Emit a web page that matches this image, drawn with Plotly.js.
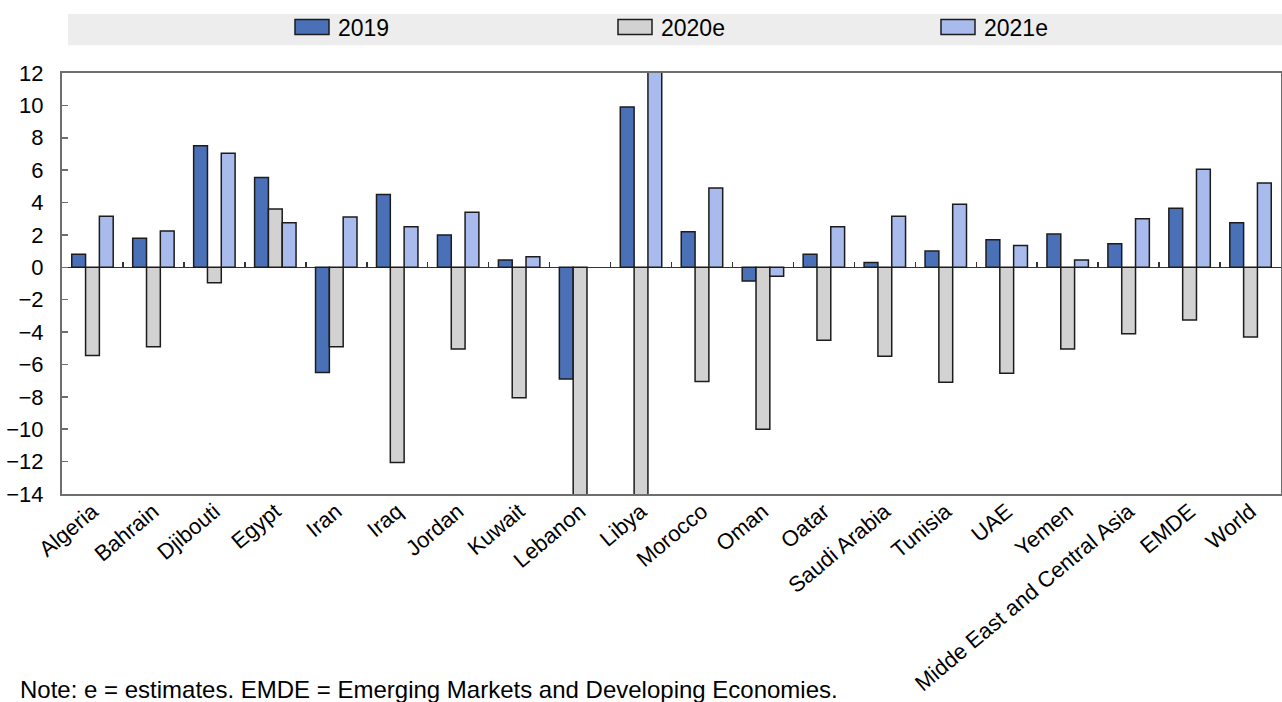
<!DOCTYPE html>
<html>
<head>
<meta charset="utf-8">
<script src="https://cdn.plot.ly/plotly-3.0.1.min.js"></script>
<style>
  html, body { margin: 0; padding: 0; background: #fff; }
  #chart { width: 1282px; height: 702px; }
</style>
</head>
<body>
<div id="chart"></div>
<script>
var categories = ["Algeria", "Bahrain", "Djibouti", "Egypt", "Iran", "Iraq", "Jordan", "Kuwait", "Lebanon", "Libya",
  "Morocco", "Oman", "Oatar", "Saudi Arabia", "Tunisia", "UAE", "Yemen", "Midde East and Central Asia", "EMDE", "World"];

var values2019  = [0.8, 1.8, 7.5, 5.55, -6.5, 4.5, 2.0, 0.45, -6.9, 9.9,
  2.2, -0.85, 0.8, 0.3, 1.0, 1.7, 2.05, 1.45, 3.65, 2.75];
var values2020e = [-5.45, -4.9, -0.95, 3.6, -4.9, -12.05, -5.05, -8.05, -19.2, -66.7,
  -7.05, -10.0, -4.5, -5.5, -7.1, -6.55, -5.05, -4.1, -3.25, -4.3];
var values2021e = [3.15, 2.25, 7.05, 2.75, 3.1, 2.5, 3.4, 0.65, null, 76.0,
  4.9, -0.55, 2.5, 3.15, 3.9, 1.35, 0.45, 3.0, 6.05, 5.2];

var seriesNames = ["2019", "2020e", "2021e"];
var boundaryTicks = [0.5, 1.5, 2.5, 3.5, 4.5, 5.5, 6.5, 7.5, 8.5, 9.5, 10.5, 11.5, 12.5, 13.5, 14.5, 15.5, 16.5, 17.5, 18.5];
var yTicks = [-14, -12, -10, -8, -6, -4, -2, 0, 2, 4, 6, 8, 10, 12];
var noteText = "Note: e = estimates. EMDE = Emerging Markets and Developing Economies.";

var colors = ["#4a70b8", "#d2d2d2", "#a9bbec"];
var outline = { color: "#1c1c1c", width: 1.5 };

var data = [values2019, values2020e, values2021e].map(function (vals, i) {
  return {
    type: "bar",
    name: seriesNames[i],
    x: categories,
    y: vals,
    marker: { color: colors[i], line: outline },
    hoverinfo: "x+y+name"
  };
});
// empty helper trace so the zero-line boundary tick axis is drawn
data.push({ type: "scatter", x: [], y: [], xaxis: "x2", yaxis: "y", showlegend: false, hoverinfo: "skip" });

var fam = "Liberation Sans, Arial, sans-serif";
var tickFont = { family: fam, size: 22, color: "#000" };
var legendFont = { family: fam, size: 23, color: "#000" };
var noteFont = { family: fam, size: 24, color: "#000" };

var layout = {
  width: 1282,
  height: 702,
  margin: { l: 62, r: 1, t: 73, b: 208 },
  paper_bgcolor: "#ffffff",
  plot_bgcolor: "#ffffff",
  font: tickFont,
  barmode: "group",
  bargap: 0.32,
  bargroupgap: 0,
  showlegend: true,
  legend: {
    orientation: "h",
    x: 0.1936,
    xanchor: "left",
    y: (702 - 27) / 702,
    yanchor: "middle",
    yref: "container",
    bgcolor: "rgba(0,0,0,0)",
    font: legendFont,
    entrywidth: 278,
    entrywidthmode: "pixels",
    traceorder: "normal"
  },
  xaxis: {
    type: "category",
    tickangle: -40,
    ticks: "",
    ticklabelstandoff: -6,
    showline: true,
    linecolor: "#6e6e6e",
    linewidth: 2,
    mirror: true,
    showgrid: false,
    zeroline: false,
    layer: "below traces",
    tickfont: tickFont
  },
  xaxis2: {
    overlaying: "x",
    anchor: "free",
    position: 14 / 26,
    side: "top",
    range: [-0.5, 19.5],
    tickvals: boundaryTicks,
    ticks: "outside",
    ticklen: 5,
    tickwidth: 1.5,
    tickcolor: "#333",
    showticklabels: false,
    showline: false,
    showgrid: false,
    zeroline: false
  },
  yaxis: {
    range: [-14, 12],
    tickvals: yTicks,
    ticks: "inside",
    ticklen: 6,
    tickwidth: 1.5,
    tickcolor: "#6e6e6e",
    ticklabelstandoff: 12,
    showline: true,
    linecolor: "#6e6e6e",
    linewidth: 2,
    mirror: true,
    showgrid: false,
    zeroline: true,
    zerolinecolor: "#333",
    zerolinewidth: 1.5,
    layer: "below traces",
    tickfont: tickFont
  },
  shapes: [
    {
      type: "rect", xref: "paper", yref: "paper",
      x0: 0.005, x1: 1.01, y0: 1.066, y1: 1.14,
      fillcolor: "#ededed", line: { width: 0 }, layer: "below"
    }
  ],
  annotations: [
    {
      text: noteText, xref: "paper", yref: "paper",
      x: -0.036, y: -0.5, xanchor: "left", yanchor: "bottom",
      showarrow: false, font: noteFont
    }
  ]
};

Plotly.newPlot("chart", data, layout, { displayModeBar: false, staticPlot: true }).then(function (gd) {
  gd.querySelectorAll(".legend [clip-path]").forEach(function (el) {
    el.removeAttribute("clip-path");
  });
  gd.querySelectorAll(".legend .legendpoints path").forEach(function (p) {
    p.setAttribute("d", "M17,7.5H-17V-7.5H17Z");
    p.setAttribute("transform", "translate(14,0)");
  });
});
</script>
</body>
</html>
